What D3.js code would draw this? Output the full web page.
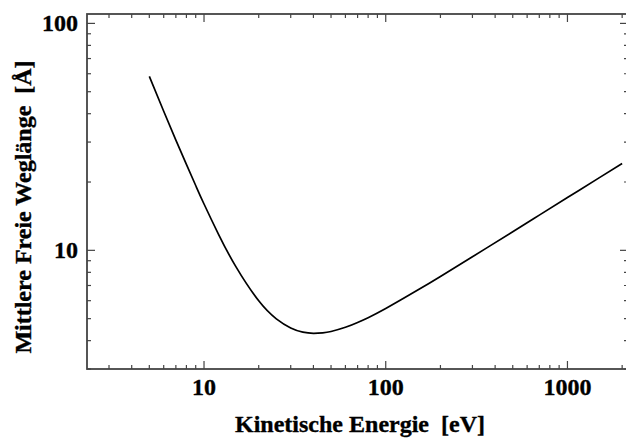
<!DOCTYPE html>
<html>
<head>
<meta charset="utf-8">
<script src="https://cdn.jsdelivr.net/npm/d3@7"></script>
<style>
  body { margin: 0; background: #fff; }
  text { font-family: "Liberation Serif", "Times New Roman", serif; font-weight: bold; fill: #000; stroke: #000; stroke-width: 0.35px; white-space: pre; }
</style>
</head>
<body>
<svg id="chart" width="626" height="439"></svg>
<script>
// energies (eV) and mean free path (Å)
const energy = [5, 6, 7, 8, 9, 10, 12, 15, 20, 25, 30, 35, 40, 45, 50, 60, 70, 80, 100, 150, 200, 300, 500, 700, 1000, 1500, 2000];
const mfp = [58.4, 41.0, 30.6, 23.9, 19.3, 16.0, 11.8, 8.45, 5.99, 4.99, 4.55, 4.36, 4.31, 4.33, 4.39, 4.58, 4.81, 5.05, 5.54, 6.68, 7.67, 9.37, 12.07, 14.29, 17.08, 20.91, 24.15];
const xTicks = [10, 100, 1000];
const yTicks = [10, 100];

const margin = { left: 87, top: 14, right: 0, bottom: 70 };
const width = 628 - margin.left - margin.right;
const height = 369 - margin.top;

const svg = d3.select('#chart');
const g = svg.append('g').attr('transform', `translate(${margin.left},${margin.top})`);

// right frame edge sits just past the window
const x = d3.scaleLog().domain([2.27, 2100]).range([0, 539]);
const y = d3.scaleLog().domain([3, 110]).range([height, 0]);

// all log ticks inside domain, majors are the decades
function logTicks(scale) {
  const [a, b] = scale.domain();
  const out = [];
  for (let p = Math.floor(Math.log10(a)); p <= Math.ceil(Math.log10(b)); p++) {
    for (let m = 1; m < 10; m++) {
      const v = m * Math.pow(10, p);
      if (v >= a && v <= b) out.push({ v, major: m === 1 });
    }
  }
  return out;
}

const axisColor = '#444';
const majorLen = 8, minorLen = 4;

// frame
g.append('rect')
    .attr('width', width)
    .attr('height', height)
    .attr('fill', 'none')
    .attr('stroke', axisColor)
    .attr('stroke-width', 1.8);

const xt = logTicks(x);
const yt = logTicks(y);

// bottom + top ticks, pointing inward
g.selectAll('.xtick-b').data(xt).enter().append('line')
    .attr('x1', d => x(d.v)).attr('x2', d => x(d.v))
    .attr('y1', height).attr('y2', d => height - (d.major ? majorLen : minorLen))
    .attr('stroke', axisColor).attr('stroke-width', 1.2);
g.selectAll('.xtick-t').data(xt).enter().append('line')
    .attr('x1', d => x(d.v)).attr('x2', d => x(d.v))
    .attr('y1', 0).attr('y2', d => d.major ? majorLen : minorLen)
    .attr('stroke', axisColor).attr('stroke-width', 1.2);

// left + right ticks
g.selectAll('.ytick-l').data(yt).enter().append('line')
    .attr('y1', d => y(d.v)).attr('y2', d => y(d.v))
    .attr('x1', 0).attr('x2', d => d.major ? majorLen : minorLen)
    .attr('stroke', axisColor).attr('stroke-width', 1.2);
g.selectAll('.ytick-r').data(yt).enter().append('line')
    .attr('y1', d => y(d.v)).attr('y2', d => y(d.v))
    .attr('x1', width).attr('x2', d => width - (d.major ? majorLen : minorLen))
    .attr('stroke', axisColor).attr('stroke-width', 1.2);

// tick labels
g.selectAll('.xlabel').data(xTicks).enter().append('text')
    .attr('x', d => x(d))
    .attr('y', height + 26)
    .attr('text-anchor', 'middle')
    .style('font-size', '24px')
    .text(d => d);

g.selectAll('.ylabel').data(yTicks).enter().append('text')
    .attr('x', -9)
    .attr('y', d => y(d) + 8)
    .attr('text-anchor', 'end')
    .style('font-size', '24px')
    .text(d => d);

// curve
const pts = energy.map((e, i) => [x(e), y(mfp[i])]);
g.append('path')
    .attr('d', d3.line().curve(d3.curveNatural)(pts))
    .attr('fill', 'none')
    .attr('stroke', '#000')
    .attr('stroke-width', 1.7);

// axis titles
svg.append('text')
    .attr('x', 360)
    .attr('y', 432)
    .attr('text-anchor', 'middle')
    .style('font-size', '24px')
    .text('Kinetische Energie  [eV]');

svg.append('text')
    .attr('transform', 'translate(31,207) rotate(-90)')
    .attr('text-anchor', 'middle')
    .style('font-size', '24px')
    .text('Mittlere Freie Weglänge  [Å]');
</script>
</body>
</html>
